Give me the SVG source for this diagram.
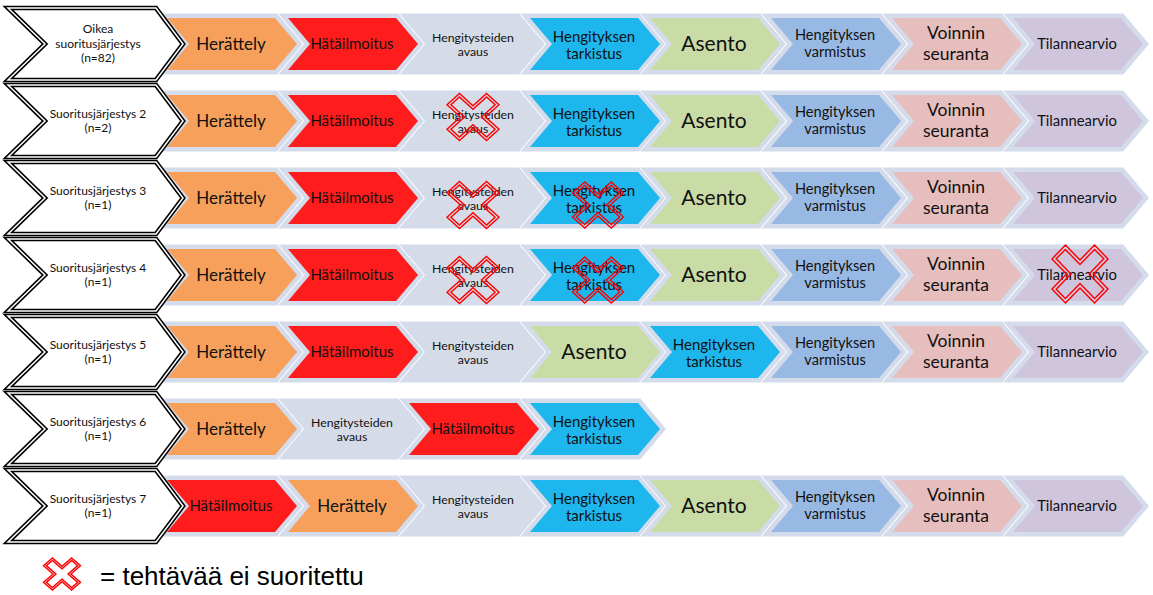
<svg xmlns="http://www.w3.org/2000/svg" xmlns:xlink="http://www.w3.org/1999/xlink" width="1153" height="595" viewBox="0 0 1153 595">
<style>
.t{font-family:Lato,"Liberation Sans",sans-serif;text-anchor:middle;fill:#111}
.lb{font-size:12px}
.f-h{font-size:17px}.f-ha{font-size:15px}.f-av{font-size:12.3px}.f-tk{font-size:15px}.f-as{font-size:21px}.f-vm{font-size:14.6px}.f-vs{font-size:17.5px}.f-ti{font-size:14.8px}
.glow{fill:#d4dbea;stroke:#fff;stroke-width:1}
.h{fill:#f6a05b}.ha{fill:#ff1c1c}.av{fill:#d6dbe8}.tk{fill:#1db7ee}.as{fill:#c9dca6}.vm{fill:#98b9e3}.vs{fill:#e7bebe}.ti{fill:#cfc6dd}
.lo{fill:#fff;stroke:#000;stroke-width:4.6;stroke-linejoin:miter}
.li{fill:none;stroke:#fff;stroke-width:1.5;stroke-linejoin:miter}
.xm{fill:none;stroke:#f00;stroke-width:1.4}
</style>
<defs>
<path id="glowp" class="glow" d="M-10.7,-31 L110.3,-31 L136.5,0 L110.3,31 L-10.7,31 L15.5,0 Z"/>
<path id="chev" d="M0,-26 L108,-26 L130,0 L108,26 L0,26 L22,0 Z"/>
<path id="lab" d="M8,-36 L156,-36 L183,0 L156,36 L8,36 L45,0 Z"/>
<g id="xmark">
<path class="xm" vector-effect="non-scaling-stroke" transform="rotate(45)" d="M17,-53.7 L17,-17 L53.7,-17 L53.7,17 L17,17 L17,53.7 L-17,53.7 L-17,17 L-53.7,17 L-53.7,-17 L-17,-17 L-17,-53.7 Z"/>
<path class="xm" vector-effect="non-scaling-stroke" transform="rotate(45)" d="M11.5,-48.5 L11.5,-11.5 L48.5,-11.5 L48.5,11.5 L11.5,11.5 L11.5,48.5 L-11.5,48.5 L-11.5,11.5 L-48.5,11.5 L-48.5,-11.5 L-11.5,-11.5 L-11.5,-48.5 Z"/>
</g>
</defs>

<!-- Row 1 -->
<g id="row1">
<g id="r1-s1" transform="translate(167,44)"><use href="#glowp"/><use href="#chev" class="h"/><text class="t f-h" x="64" y="6">Herättely</text></g>
<g id="r1-s2" transform="translate(288,44)"><use href="#glowp"/><use href="#chev" class="ha"/><text class="t f-ha" x="64" y="5">Hätäilmoitus</text></g>
<g id="r1-s3" transform="translate(409,44)"><use href="#glowp"/><use href="#chev" class="av"/><text class="t f-av" x="64" y="-2">Hengitysteiden</text><text class="t f-av" x="64" y="12">avaus</text></g>
<g id="r1-s4" transform="translate(530,44)"><use href="#glowp"/><use href="#chev" class="tk"/><text class="t f-tk" x="64" y="-2.5">Hengityksen</text><text class="t f-tk" x="64" y="14.5">tarkistus</text></g>
<g id="r1-s5" transform="translate(650,44)"><use href="#glowp"/><use href="#chev" class="as"/><text class="t f-as" x="64" y="7">Asento</text></g>
<g id="r1-s6" transform="translate(771,44)"><use href="#glowp"/><use href="#chev" class="vm"/><text class="t f-vm" x="64" y="-4">Hengityksen</text><text class="t f-vm" x="64" y="13">varmistus</text></g>
<g id="r1-s7" transform="translate(892,44)"><use href="#glowp"/><use href="#chev" class="vs"/><text class="t f-vs" x="64" y="-5.5">Voinnin</text><text class="t f-vs" x="64" y="16">seuranta</text></g>
<g id="r1-s8" transform="translate(1013,44)"><use href="#glowp"/><use href="#chev" class="ti"/><text class="t f-ti" x="64" y="5">Tilannearvio</text></g>
<g id="r1-label" transform="translate(0,44)"><use href="#lab" class="lo"/><use href="#lab" class="li"/><text class="t lb" x="98" y="-11">Oikea</text><text class="t lb" x="98" y="3.5">suoritusjärjestys</text><text class="t lb" x="98" y="18">(n=82)</text></g>
</g>

<!-- Row 2 -->
<g id="row2">
<g id="r2-s1" transform="translate(167,121)"><use href="#glowp"/><use href="#chev" class="h"/><text class="t f-h" x="64" y="6">Herättely</text></g>
<g id="r2-s2" transform="translate(288,121)"><use href="#glowp"/><use href="#chev" class="ha"/><text class="t f-ha" x="64" y="5">Hätäilmoitus</text></g>
<g id="r2-s3" transform="translate(409,121)"><use href="#glowp"/><use href="#chev" class="av"/><text class="t f-av" x="64" y="-2">Hengitysteiden</text><text class="t f-av" x="64" y="12">avaus</text></g>
<g id="r2-s4" transform="translate(530,121)"><use href="#glowp"/><use href="#chev" class="tk"/><text class="t f-tk" x="64" y="-2.5">Hengityksen</text><text class="t f-tk" x="64" y="14.5">tarkistus</text></g>
<g id="r2-s5" transform="translate(650,121)"><use href="#glowp"/><use href="#chev" class="as"/><text class="t f-as" x="64" y="7">Asento</text></g>
<g id="r2-s6" transform="translate(771,121)"><use href="#glowp"/><use href="#chev" class="vm"/><text class="t f-vm" x="64" y="-4">Hengityksen</text><text class="t f-vm" x="64" y="13">varmistus</text></g>
<g id="r2-s7" transform="translate(892,121)"><use href="#glowp"/><use href="#chev" class="vs"/><text class="t f-vs" x="64" y="-5.5">Voinnin</text><text class="t f-vs" x="64" y="16">seuranta</text></g>
<g id="r2-s8" transform="translate(1013,121)"><use href="#glowp"/><use href="#chev" class="ti"/><text class="t f-ti" x="64" y="5">Tilannearvio</text></g>
<g id="r2-label" transform="translate(0,121)"><use href="#lab" class="lo"/><use href="#lab" class="li"/><text class="t lb" x="98" y="-3">Suoritusjärjestys 2</text><text class="t lb" x="98" y="11">(n=2)</text></g>
</g>

<!-- Row 3 -->
<g id="row3">
<g id="r3-s1" transform="translate(167,198)"><use href="#glowp"/><use href="#chev" class="h"/><text class="t f-h" x="64" y="6">Herättely</text></g>
<g id="r3-s2" transform="translate(288,198)"><use href="#glowp"/><use href="#chev" class="ha"/><text class="t f-ha" x="64" y="5">Hätäilmoitus</text></g>
<g id="r3-s3" transform="translate(409,198)"><use href="#glowp"/><use href="#chev" class="av"/><text class="t f-av" x="64" y="-2">Hengitysteiden</text><text class="t f-av" x="64" y="12">avaus</text></g>
<g id="r3-s4" transform="translate(530,198)"><use href="#glowp"/><use href="#chev" class="tk"/><text class="t f-tk" x="64" y="-2.5">Hengityksen</text><text class="t f-tk" x="64" y="14.5">tarkistus</text></g>
<g id="r3-s5" transform="translate(650,198)"><use href="#glowp"/><use href="#chev" class="as"/><text class="t f-as" x="64" y="7">Asento</text></g>
<g id="r3-s6" transform="translate(771,198)"><use href="#glowp"/><use href="#chev" class="vm"/><text class="t f-vm" x="64" y="-4">Hengityksen</text><text class="t f-vm" x="64" y="13">varmistus</text></g>
<g id="r3-s7" transform="translate(892,198)"><use href="#glowp"/><use href="#chev" class="vs"/><text class="t f-vs" x="64" y="-5.5">Voinnin</text><text class="t f-vs" x="64" y="16">seuranta</text></g>
<g id="r3-s8" transform="translate(1013,198)"><use href="#glowp"/><use href="#chev" class="ti"/><text class="t f-ti" x="64" y="5">Tilannearvio</text></g>
<g id="r3-label" transform="translate(0,198)"><use href="#lab" class="lo"/><use href="#lab" class="li"/><text class="t lb" x="98" y="-3">Suoritusjärjestys 3</text><text class="t lb" x="98" y="11">(n=1)</text></g>
</g>

<!-- Row 4 -->
<g id="row4">
<g id="r4-s1" transform="translate(167,275)"><use href="#glowp"/><use href="#chev" class="h"/><text class="t f-h" x="64" y="6">Herättely</text></g>
<g id="r4-s2" transform="translate(288,275)"><use href="#glowp"/><use href="#chev" class="ha"/><text class="t f-ha" x="64" y="5">Hätäilmoitus</text></g>
<g id="r4-s3" transform="translate(409,275)"><use href="#glowp"/><use href="#chev" class="av"/><text class="t f-av" x="64" y="-2">Hengitysteiden</text><text class="t f-av" x="64" y="12">avaus</text></g>
<g id="r4-s4" transform="translate(530,275)"><use href="#glowp"/><use href="#chev" class="tk"/><text class="t f-tk" x="64" y="-2.5">Hengityksen</text><text class="t f-tk" x="64" y="14.5">tarkistus</text></g>
<g id="r4-s5" transform="translate(650,275)"><use href="#glowp"/><use href="#chev" class="as"/><text class="t f-as" x="64" y="7">Asento</text></g>
<g id="r4-s6" transform="translate(771,275)"><use href="#glowp"/><use href="#chev" class="vm"/><text class="t f-vm" x="64" y="-4">Hengityksen</text><text class="t f-vm" x="64" y="13">varmistus</text></g>
<g id="r4-s7" transform="translate(892,275)"><use href="#glowp"/><use href="#chev" class="vs"/><text class="t f-vs" x="64" y="-5.5">Voinnin</text><text class="t f-vs" x="64" y="16">seuranta</text></g>
<g id="r4-s8" transform="translate(1013,275)"><use href="#glowp"/><use href="#chev" class="ti"/><text class="t f-ti" x="64" y="5">Tilannearvio</text></g>
<g id="r4-label" transform="translate(0,275)"><use href="#lab" class="lo"/><use href="#lab" class="li"/><text class="t lb" x="98" y="-3">Suoritusjärjestys 4</text><text class="t lb" x="98" y="11">(n=1)</text></g>
</g>

<!-- Row 5 -->
<g id="row5">
<g id="r5-s1" transform="translate(167,352)"><use href="#glowp"/><use href="#chev" class="h"/><text class="t f-h" x="64" y="6">Herättely</text></g>
<g id="r5-s2" transform="translate(288,352)"><use href="#glowp"/><use href="#chev" class="ha"/><text class="t f-ha" x="64" y="5">Hätäilmoitus</text></g>
<g id="r5-s3" transform="translate(409,352)"><use href="#glowp"/><use href="#chev" class="av"/><text class="t f-av" x="64" y="-2">Hengitysteiden</text><text class="t f-av" x="64" y="12">avaus</text></g>
<g id="r5-s4" transform="translate(530,352)"><use href="#glowp"/><use href="#chev" class="as"/><text class="t f-as" x="64" y="7">Asento</text></g>
<g id="r5-s5" transform="translate(650,352)"><use href="#glowp"/><use href="#chev" class="tk"/><text class="t f-tk" x="64" y="-2.5">Hengityksen</text><text class="t f-tk" x="64" y="14.5">tarkistus</text></g>
<g id="r5-s6" transform="translate(771,352)"><use href="#glowp"/><use href="#chev" class="vm"/><text class="t f-vm" x="64" y="-4">Hengityksen</text><text class="t f-vm" x="64" y="13">varmistus</text></g>
<g id="r5-s7" transform="translate(892,352)"><use href="#glowp"/><use href="#chev" class="vs"/><text class="t f-vs" x="64" y="-5.5">Voinnin</text><text class="t f-vs" x="64" y="16">seuranta</text></g>
<g id="r5-s8" transform="translate(1013,352)"><use href="#glowp"/><use href="#chev" class="ti"/><text class="t f-ti" x="64" y="5">Tilannearvio</text></g>
<g id="r5-label" transform="translate(0,352)"><use href="#lab" class="lo"/><use href="#lab" class="li"/><text class="t lb" x="98" y="-3">Suoritusjärjestys 5</text><text class="t lb" x="98" y="11">(n=1)</text></g>
</g>

<!-- Row 6 -->
<g id="row6">
<g id="r6-s1" transform="translate(167,429)"><use href="#glowp"/><use href="#chev" class="h"/><text class="t f-h" x="64" y="6">Herättely</text></g>
<g id="r6-s2" transform="translate(288,429)"><use href="#glowp"/><use href="#chev" class="av"/><text class="t f-av" x="64" y="-2">Hengitysteiden</text><text class="t f-av" x="64" y="12">avaus</text></g>
<g id="r6-s3" transform="translate(409,429)"><use href="#glowp"/><use href="#chev" class="ha"/><text class="t f-ha" x="64" y="5">Hätäilmoitus</text></g>
<g id="r6-s4" transform="translate(530,429)"><use href="#glowp"/><use href="#chev" class="tk"/><text class="t f-tk" x="64" y="-2.5">Hengityksen</text><text class="t f-tk" x="64" y="14.5">tarkistus</text></g>
<g id="r6-label" transform="translate(0,429)"><use href="#lab" class="lo"/><use href="#lab" class="li"/><text class="t lb" x="98" y="-3">Suoritusjärjestys 6</text><text class="t lb" x="98" y="11">(n=1)</text></g>
</g>

<!-- Row 7 -->
<g id="row7">
<g id="r7-s1" transform="translate(167,506)"><use href="#glowp"/><use href="#chev" class="ha"/><text class="t f-ha" x="64" y="5">Hätäilmoitus</text></g>
<g id="r7-s2" transform="translate(288,506)"><use href="#glowp"/><use href="#chev" class="h"/><text class="t f-h" x="64" y="6">Herättely</text></g>
<g id="r7-s3" transform="translate(409,506)"><use href="#glowp"/><use href="#chev" class="av"/><text class="t f-av" x="64" y="-2">Hengitysteiden</text><text class="t f-av" x="64" y="12">avaus</text></g>
<g id="r7-s4" transform="translate(530,506)"><use href="#glowp"/><use href="#chev" class="tk"/><text class="t f-tk" x="64" y="-2.5">Hengityksen</text><text class="t f-tk" x="64" y="14.5">tarkistus</text></g>
<g id="r7-s5" transform="translate(650,506)"><use href="#glowp"/><use href="#chev" class="as"/><text class="t f-as" x="64" y="7">Asento</text></g>
<g id="r7-s6" transform="translate(771,506)"><use href="#glowp"/><use href="#chev" class="vm"/><text class="t f-vm" x="64" y="-4">Hengityksen</text><text class="t f-vm" x="64" y="13">varmistus</text></g>
<g id="r7-s7" transform="translate(892,506)"><use href="#glowp"/><use href="#chev" class="vs"/><text class="t f-vs" x="64" y="-5.5">Voinnin</text><text class="t f-vs" x="64" y="16">seuranta</text></g>
<g id="r7-s8" transform="translate(1013,506)"><use href="#glowp"/><use href="#chev" class="ti"/><text class="t f-ti" x="64" y="5">Tilannearvio</text></g>
<g id="r7-label" transform="translate(0,506)"><use href="#lab" class="lo"/><use href="#lab" class="li"/><text class="t lb" x="98" y="-3">Suoritusjärjestys 7</text><text class="t lb" x="98" y="11">(n=1)</text></g>
</g>

<!-- Not-done marks -->
<g id="marks">
<use href="#xmark" transform="translate(473,117) scale(0.52,0.47)"/>
<use href="#xmark" transform="translate(473,205) scale(0.52,0.47)"/>
<use href="#xmark" transform="translate(598,205) scale(0.51,0.46)"/>
<use href="#xmark" transform="translate(473,280) scale(0.52,0.47)"/>
<use href="#xmark" transform="translate(598,280) scale(0.51,0.46)"/>
<use href="#xmark" transform="translate(1080,274) scale(0.56,0.58)"/>
</g>

<!-- Legend -->
<g id="legend">
<use href="#xmark" transform="translate(62,574) scale(0.37,0.32)"/>
<text x="100" y="585" font-family="Liberation Sans, Arial, sans-serif" font-size="26" fill="#000">= tehtävää ei suoritettu</text>
</g>
</svg>
